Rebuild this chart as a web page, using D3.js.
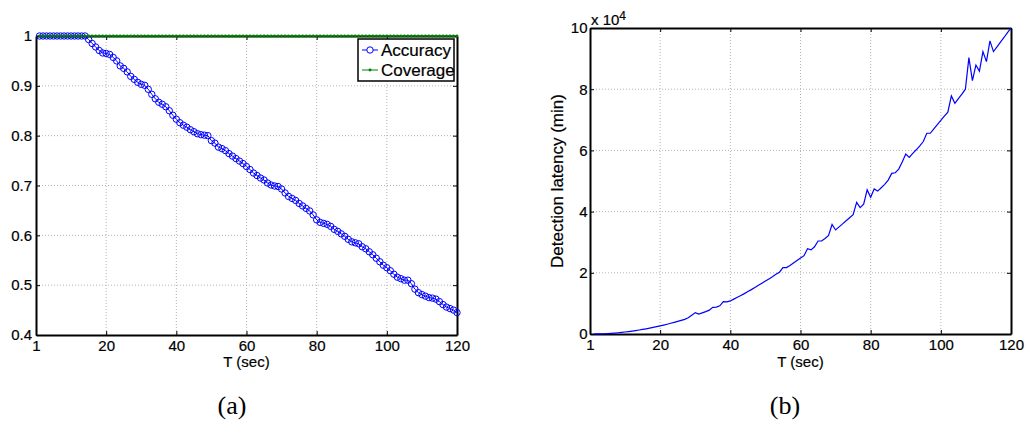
<!DOCTYPE html>
<html>
<head>
<meta charset="utf-8">
<script src="https://cdn.jsdelivr.net/npm/d3@7"></script>
<style>
body { margin: 0; background: #fff; }
text { font-family: "Liberation Sans", Arial, sans-serif; fill: #000; stroke: #000; stroke-width: 0.2; }
.grid line { stroke: #b4b4b4; stroke-width: 1; stroke-dasharray: 1,2; }
.axis path, .axis line { stroke: #000; }
.axis path { stroke-width: 2; }
.caption { font-family: "Liberation Serif", "Times New Roman", serif; font-size: 26px; stroke: none; }
</style>
</head>
<body>
<div id="chart"></div>
<script>
// T (sec) for every point of both panels
var seconds = d3.range(1, 121);

var accuracy = [
    1, 1, 1, 1, 1, 1, 1, 1, 1, 1, 1, 1, 1, 1, 0.993, 0.985, 0.978, 0.971, 0.966, 0.965,
    0.963, 0.957, 0.950, 0.940, 0.935, 0.928, 0.919, 0.913, 0.907, 0.903, 0.901, 0.893, 0.883, 0.874, 0.867, 0.863, 0.858, 0.850, 0.841, 0.833,
    0.826, 0.821, 0.817, 0.812, 0.808, 0.804, 0.802, 0.801, 0.800, 0.790, 0.785, 0.777, 0.774, 0.770, 0.764, 0.759, 0.754, 0.749, 0.744, 0.738,
    0.732, 0.725, 0.720, 0.715, 0.711, 0.705, 0.701, 0.699, 0.698, 0.693, 0.685, 0.678, 0.674, 0.670, 0.664, 0.659, 0.654, 0.649, 0.641, 0.631,
    0.626, 0.624, 0.622, 0.618, 0.612, 0.608, 0.603, 0.598, 0.592, 0.587, 0.585, 0.583, 0.577, 0.573, 0.567, 0.561, 0.554, 0.547, 0.540, 0.535,
    0.529, 0.522, 0.516, 0.513, 0.510, 0.510, 0.503, 0.492, 0.485, 0.481, 0.478, 0.475, 0.474, 0.472, 0.467, 0.461, 0.456, 0.453, 0.450, 0.445
];

var coverage = [
    1, 1, 1, 1, 1, 1, 1, 1, 1, 1, 1, 1, 1, 1, 1, 1, 1, 1, 1, 1,
    1, 1, 1, 1, 1, 1, 1, 1, 1, 1, 1, 1, 1, 1, 1, 1, 1, 1, 1, 1,
    1, 1, 1, 1, 1, 1, 1, 1, 1, 1, 1, 1, 1, 1, 1, 1, 1, 1, 1, 1,
    1, 1, 1, 1, 1, 1, 1, 1, 1, 1, 1, 1, 1, 1, 1, 1, 1, 1, 1, 1,
    1, 1, 1, 1, 1, 1, 1, 1, 1, 1, 1, 1, 1, 1, 1, 1, 1, 1, 1, 1,
    1, 1, 1, 1, 1, 1, 1, 1, 1, 1, 1, 1, 1, 1, 1, 1, 1, 1, 1, 1
];

// detection latency in minutes
var latency = [
    0, 20, 50, 90, 150, 220, 300, 400, 520, 650, 800, 950, 1120, 1300, 1500, 1700, 1920, 2150, 2400, 2650,
    2920, 3200, 3500, 3800, 4120, 4450, 4800, 5300, 6100, 7000, 6500, 6900, 7300, 7800, 8700, 8800, 9200, 10600, 10500, 10800,
    11400, 12000, 12600, 13200, 13900, 14500, 15200, 15900, 16600, 17300, 18000, 18700, 19500, 20200, 21700, 21700, 22400, 23200, 24000, 24800,
    25600, 27900, 27500, 28500, 30400, 30400, 31200, 32200, 35800, 34000, 35000, 36000, 37000, 38000, 39000, 43000, 41300, 42400, 47100, 44700,
    47400, 46700, 47800, 48900, 50300, 52500, 52700, 53900, 56200, 58800, 57700, 59000, 60200, 61500, 62900, 65600, 65600, 67000, 68400, 69800,
    71200, 72500, 77800, 75400, 76900, 78400, 80000, 90300, 82800, 87900, 85900, 92300, 89000, 95800, 92300, 93800, 95400, 96900, 98500, 100000
];

var xTicks = [0, 20, 40, 60, 80, 100, 120],
    xTickLabels = ["1", "20", "40", "60", "80", "100", "120"],
    accTicks = [0.4, 0.5, 0.6, 0.7, 0.8, 0.9, 1],
    accTickLabels = ["0.4", "0.5", "0.6", "0.7", "0.8", "0.9", "1"],
    latTicks = [0, 20000, 40000, 60000, 80000, 100000],
    latTickLabels = ["0", "2", "4", "6", "8", "10"];

var svg = d3.select("#chart").append("svg")
    .attr("width", 1029)
    .attr("height", 427);

function frame(box, yDomain, yTicks, yLabels, yPad) {
    var x = d3.scaleLinear().domain([0, 120]).range([box.left, box.right]),
        y = d3.scaleLinear().domain(yDomain).range([box.bottom, box.top]),
        g = svg.append("g");

    var grid = g.append("g").attr("class", "grid");
    grid.selectAll("line.gx")
        .data(xTicks.slice(1, -1))
        .enter().append("line")
        .attr("x1", x).attr("x2", x)
        .attr("y1", box.top).attr("y2", box.bottom);
    grid.selectAll("line.gy")
        .data(yTicks.slice(1, -1))
        .enter().append("line")
        .attr("x1", box.left).attr("x2", box.right)
        .attr("y1", y).attr("y2", y);

    function xl(d, i) { return xTickLabels[i]; }
    function yl(d, i) { return yLabels[i]; }

    g.append("g").attr("class", "axis")
        .attr("transform", "translate(0," + box.bottom + ")")
        .call(d3.axisBottom(x).tickValues(xTicks).tickFormat(xl)
            .tickSizeInner(-4).tickSizeOuter(0).tickPadding(5));
    g.append("g").attr("class", "axis")
        .attr("transform", "translate(0," + box.top + ")")
        .call(d3.axisTop(x).tickValues(xTicks).tickFormat("")
            .tickSizeInner(-4).tickSizeOuter(0));
    g.append("g").attr("class", "axis")
        .attr("transform", "translate(" + box.left + ",0)")
        .call(d3.axisLeft(y).tickValues(yTicks).tickFormat(yl)
            .tickSizeInner(-4).tickSizeOuter(0).tickPadding(yPad));
    g.append("g").attr("class", "axis")
        .attr("transform", "translate(" + box.right + ",0)")
        .call(d3.axisRight(y).tickValues(yTicks).tickFormat("")
            .tickSizeInner(-4).tickSizeOuter(0));

    g.selectAll(".axis text").style("font-size", "15px").style("font-family", null);

    g.append("text")
        .attr("x", (box.left + box.right) / 2)
        .attr("y", 367)
        .attr("text-anchor", "middle")
        .style("font-size", "15px")
        .text("T (sec)");

    return {g: g, x: x, y: y};
}

// (a) accuracy / coverage
var a = frame({left: 36, right: 457, top: 36, bottom: 335}, [0.4, 1], accTicks, accTickLabels, 4);

a.g.append("path")
    .datum(seconds)
    .attr("fill", "none")
    .attr("stroke", "#0000ff")
    .attr("stroke-width", 1)
    .attr("d", d3.line()
        .x(function (d) { return a.x(d); })
        .y(function (d, i) { return a.y(accuracy[i]); }));

a.g.selectAll("circle.acc")
    .data(seconds)
    .enter().append("circle")
    .attr("class", "acc")
    .attr("cx", function (d) { return a.x(d); })
    .attr("cy", function (d, i) { return a.y(accuracy[i]); })
    .attr("r", 3.2)
    .attr("fill", "none")
    .attr("stroke", "#0000ff")
    .attr("stroke-width", 1);

a.g.append("path")
    .datum(seconds)
    .attr("fill", "none")
    .attr("stroke", "#008000")
    .attr("stroke-width", 1)
    .attr("d", d3.line()
        .x(function (d) { return a.x(d); })
        .y(function (d, i) { return a.y(coverage[i]); }));

a.g.selectAll("circle.cov")
    .data(seconds)
    .enter().append("circle")
    .attr("class", "cov")
    .attr("cx", function (d) { return a.x(d); })
    .attr("cy", function (d, i) { return a.y(coverage[i]); })
    .attr("r", 1.4)
    .attr("fill", "#008000");

// legend
var legend = a.g.append("g").attr("transform", "translate(358,39)");
legend.append("rect")
    .attr("width", 96)
    .attr("height", 42)
    .attr("fill", "#fff")
    .attr("stroke", "#000")
    .attr("stroke-width", 1.5);
legend.append("line")
    .attr("x1", 4).attr("x2", 20).attr("y1", 11).attr("y2", 11)
    .attr("stroke", "#0000ff");
legend.append("circle")
    .attr("cx", 12).attr("cy", 11).attr("r", 3.2)
    .attr("fill", "#fff").attr("stroke", "#0000ff");
legend.append("line")
    .attr("x1", 4).attr("x2", 20).attr("y1", 31).attr("y2", 31)
    .attr("stroke", "#008000");
legend.append("circle")
    .attr("cx", 12).attr("cy", 31).attr("r", 1.4)
    .attr("fill", "#008000");
legend.append("text")
    .attr("x", 23).attr("y", 17)
    .style("font-size", "17px")
    .text("Accuracy");
legend.append("text")
    .attr("x", 23).attr("y", 37)
    .style("font-size", "17px")
    .text("Coverage");

// (b) detection latency
var b = frame({left: 590, right: 1011, top: 28, bottom: 334}, [0, 100000], latTicks, latTickLabels, 2.5);

b.g.append("path")
    .datum(seconds)
    .attr("fill", "none")
    .attr("stroke", "#0000ff")
    .attr("stroke-width", 1.2)
    .attr("d", d3.line()
        .x(function (d) { return b.x(d); })
        .y(function (d, i) { return b.y(latency[i]); }));

b.g.append("text")
    .attr("transform", "translate(563,181) rotate(-90)")
    .attr("text-anchor", "middle")
    .style("font-size", "17px")
    .text("Detection latency (min)");

var mult = b.g.append("text")
    .attr("x", 591)
    .attr("y", 25)
    .style("font-size", "15px");
mult.append("tspan").text("x 10");
mult.append("tspan")
    .attr("dy", -5)
    .style("font-size", "12px")
    .text("4");

svg.append("text").attr("class", "caption")
    .attr("x", 232).attr("y", 414)
    .attr("text-anchor", "middle")
    .text("(a)");
svg.append("text").attr("class", "caption")
    .attr("x", 785).attr("y", 414)
    .attr("text-anchor", "middle")
    .text("(b)");
</script>
</body>
</html>
